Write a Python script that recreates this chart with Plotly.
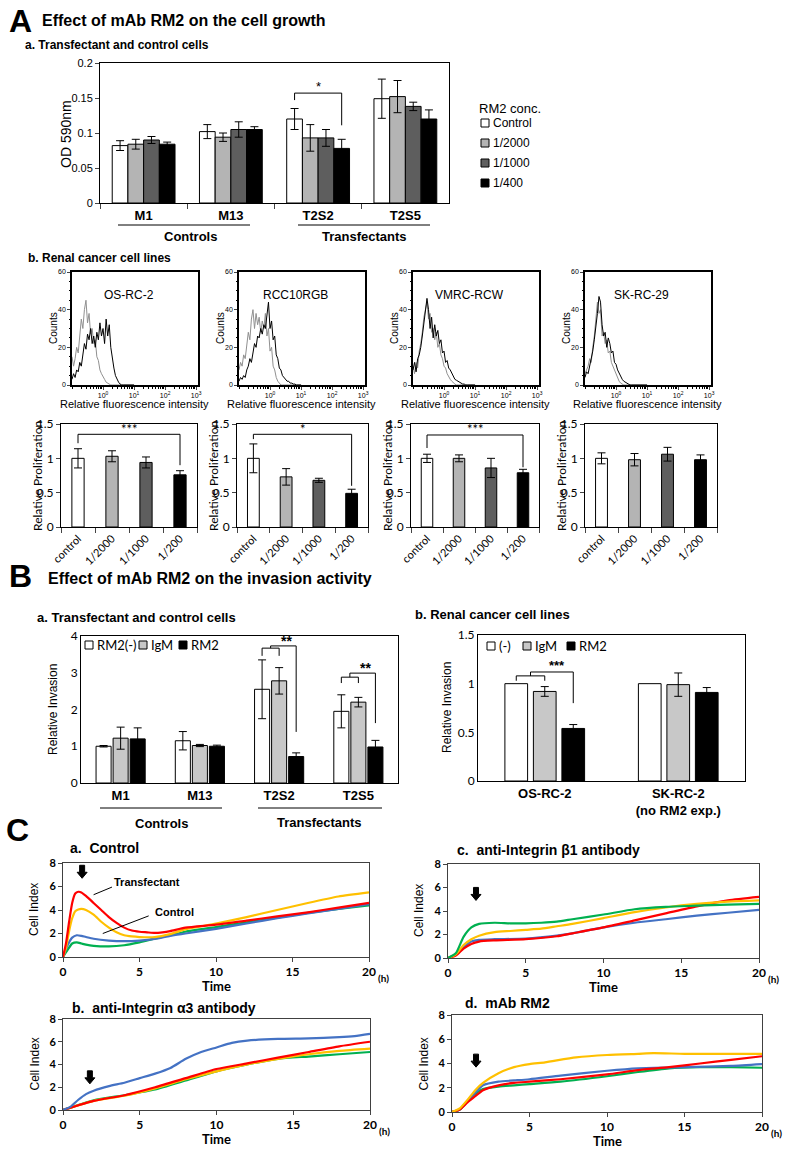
import plotly.graph_objects as go

W, H = 786, 1149
ARIAL = "Liberation Sans, Arial, sans-serif"
CALI = "Lato, Carlito, Calibri, sans-serif"

# ======================= DATA =======================
# ---- A.a  Transfectant and control cells (OD 590nm) ----
aa_categories = ["M1", "M13", "T2S2", "T2S5"]
aa_series = ["Control", "1/2000", "1/1000", "1/400"]
aa_control = [0.082, 0.102, 0.120, 0.149]
aa_control_err = [0.007, 0.010, 0.015, 0.028]
aa_d2000 = [0.084, 0.094, 0.093, 0.152]
aa_d2000_err = [0.007, 0.006, 0.019, 0.023]
aa_d1000 = [0.090, 0.105, 0.093, 0.138]
aa_d1000_err = [0.005, 0.011, 0.012, 0.006]
aa_d400 = [0.084, 0.105, 0.078, 0.120]
aa_d400_err = [0.003, 0.004, 0.013, 0.013]
aa_yticks = [0, 0.05, 0.1, 0.15, 0.2]
aa_yticktext = ["0", "0.05", "0.1", "0.15", "0.2"]

# ---- A.b  flow cytometry histograms (log10 intensity bins) ----
hist_names = ["OS-RC-2", "RCC10RGB", "VMRC-RCW", "SK-RC-29"]
hist_log_bins = [-1.00, -0.95, -0.90, -0.85, -0.80, -0.75, -0.70, -0.65, -0.60, -0.55,
                 -0.50, -0.45, -0.40, -0.35, -0.30, -0.25, -0.20, -0.15, -0.10, -0.05,
                 0.00, 0.05, 0.10, 0.15, 0.20, 0.25, 0.30, 0.35, 0.40, 0.45,
                 0.50, 0.55, 0.60, 0.65, 0.70, 0.75, 0.80, 0.85, 0.90, 0.95, 1.00]
osrc2_gray = [15, 10, 14, 20, 17, 26, 35, 30, 40, 45, 33, 38, 27, 30, 22, 24, 15, 13, 8, 6,
              4, 3, 1.5, 1, 0.5, 0, 0, 0, 0, 0, 0, 0, 0, 0, 0, 0, 0, 0, 0, 0, 0]
osrc2_black = [3, 6, 4, 8, 7, 12, 10, 17, 22, 19, 27, 24, 30, 22, 26, 20, 28, 24, 33, 26,
               30, 22, 35, 26, 32, 20, 14, 9, 5, 3, 1.5, 0.5, 0, 0, 0, 0, 0, 0, 0, 0, 0]
rcc10_gray = [8, 12, 10, 16, 14, 22, 28, 24, 35, 40, 30, 38, 32, 36, 28, 34, 30, 38, 26, 30,
              18, 20, 10, 8, 4, 2, 1, 0, 0, 0, 0, 0, 0, 0, 0, 0, 0, 0, 0, 0, 0]
rcc10_black = [2, 4, 3, 5, 4, 8, 10, 14, 12, 18, 22, 20, 26, 25, 30, 27, 32, 30, 36, 44,
               30, 34, 24, 26, 16, 14, 9, 8, 5, 4, 3, 2, 2, 1, 1, 0.5, 0.5, 0, 0, 0, 0]
vmrc_gray = [10, 6, 12, 9, 18, 22, 28, 36, 40, 44, 35, 38, 28, 30, 24, 28, 20, 22, 16, 14,
             10, 9, 6, 4, 3, 2, 1, 0.5, 0, 0, 0, 0, 0, 0, 0, 0, 0, 0, 0, 0, 0]
vmrc_black = [8, 12, 7, 14, 16, 20, 26, 33, 38, 46, 40, 30, 36, 25, 32, 26, 29, 22, 24, 17,
              18, 12, 13, 9, 8, 6, 5, 3, 2.5, 2, 1.5, 1, 0.5, 0.5, 0, 0, 0, 0, 0, 0, 0]
skrc29_gray = [6, 8, 10, 14, 12, 20, 26, 35, 44, 38, 40, 26, 28, 22, 24, 17, 18, 12, 10, 7,
               5, 3, 2, 1, 0.5, 0, 0, 0, 0, 0, 0, 0, 0, 0, 0, 0, 0, 0, 0, 0, 0]
skrc29_black = [4, 7, 6, 10, 15, 18, 24, 30, 38, 47, 44, 32, 26, 28, 20, 25, 22, 17, 18, 12,
                11, 8, 6, 4, 3, 2, 1.5, 1, 0.5, 0, 0, 0, 0, 0, 0, 0, 0, 0, 0, 0, 0]
hist_tickvals = [1, 10, 100, 1000]
hist_ticktext = ["10<sup>0</sup>", "10<sup>1</sup>", "10<sup>2</sup>", "10<sup>3</sup>"]

# ---- A.b  relative proliferation ----
prolif_categories = ["control", "1/2000", "1/1000", "1/200"]
prolif_osrc2 = [1.00, 1.03, 0.94, 0.76]
prolif_osrc2_err = [0.14, 0.08, 0.08, 0.06]
prolif_rcc10 = [1.00, 0.73, 0.68, 0.49]
prolif_rcc10_err = [0.21, 0.12, 0.03, 0.06]
prolif_vmrc = [1.00, 1.00, 0.86, 0.79]
prolif_vmrc_err = [0.06, 0.05, 0.14, 0.05]
prolif_skrc29 = [1.00, 0.98, 1.06, 0.98]
prolif_skrc29_err = [0.08, 0.09, 0.10, 0.07]
prolif_sig = ["***", "*", "***", ""]

# ---- B.a  relative invasion, transfectants ----
ba_categories = ["M1", "M13", "T2S2", "T2S5"]
ba_series = ["RM2(-)", "IgM", "RM2"]
ba_rm2neg = [1.00, 1.15, 2.55, 1.95]
ba_rm2neg_err = [0.02, 0.25, 0.80, 0.45]
ba_igm = [1.22, 1.02, 2.78, 2.20]
ba_igm_err = [0.30, 0.03, 0.36, 0.13]
ba_rm2 = [1.20, 1.00, 0.72, 0.98]
ba_rm2_err = [0.30, 0.03, 0.10, 0.18]

# ---- B.b  relative invasion, renal cancer lines ----
bb_categories = ["OS-RC-2", "SK-RC-2<br>(no RM2 exp.)"]
bb_series = ["(-)", "IgM", "RM2"]
bb_neg = [1.00, 1.00]
bb_neg_err = [0.0, 0.0]
bb_igm = [0.92, 0.99]
bb_igm_err = [0.05, 0.12]
bb_rm2 = [0.54, 0.91]
bb_rm2_err = [0.04, 0.05]

# ---- C  real-time cell index ----
ca_red_t = [0, 0.2, 0.4, 0.6, 0.8, 1.0, 1.2, 1.5, 2, 2.5, 3, 3.5, 4, 4.5, 5, 5.5, 6, 6.5, 7, 8, 10, 12, 14, 16, 18, 20]
ca_red = [0, 1.2, 3.0, 4.6, 5.4, 5.55, 5.5, 5.2, 4.6, 4.0, 3.4, 2.9, 2.5, 2.25, 2.15, 2.1, 2.05, 2.1, 2.2, 2.5, 2.75, 3.1, 3.45, 3.8, 4.2, 4.6]
ca_orange_t = [0, 0.2, 0.4, 0.6, 0.8, 1.0, 1.2, 1.5, 2, 2.5, 3, 3.5, 4, 4.5, 5, 6, 7, 8, 10, 12, 14, 16, 18, 20]
ca_orange = [0, 0.8, 2.2, 3.3, 3.9, 4.05, 4.1, 4.0, 3.6, 3.0, 2.5, 2.1, 1.85, 1.75, 1.7, 1.7, 1.95, 2.35, 2.85, 3.4, 4.0, 4.6, 5.15, 5.5]
ca_blue_t = [0, 0.3, 0.6, 0.9, 1.2, 1.5, 2, 3, 4, 5, 6, 7, 8, 10, 12, 14, 16, 18, 20]
ca_blue = [0, 1.0, 1.65, 1.85, 1.8, 1.7, 1.55, 1.4, 1.35, 1.4, 1.55, 1.8, 2.0, 2.4, 2.85, 3.3, 3.7, 4.1, 4.5]
ca_green_t = [0, 0.3, 0.6, 0.9, 1.2, 1.5, 2, 3, 4, 5, 6, 7, 8, 10, 12, 14, 16, 18, 20]
ca_green = [0, 0.6, 1.15, 1.25, 1.15, 1.05, 0.95, 0.9, 1.0, 1.25, 1.55, 1.85, 2.15, 2.55, 2.95, 3.35, 3.75, 4.1, 4.4]

cb_blue_t = [0, 0.5, 1, 1.5, 2, 3, 4, 5, 6, 7, 8, 9, 10, 11, 12, 14, 16, 18, 19, 20]
cb_blue = [0, 0.3, 0.9, 1.4, 1.7, 2.1, 2.4, 2.8, 3.2, 3.7, 4.5, 5.1, 5.5, 5.9, 6.1, 6.25, 6.3, 6.4, 6.5, 6.7]
cb_red_t = [0, 2, 4, 6, 8, 10, 12, 14, 16, 18, 20]
cb_red = [0, 0.8, 1.3, 2.0, 2.8, 3.6, 4.1, 4.6, 5.1, 5.6, 6.0]
cb_orange_t = [0, 2, 4, 6, 8, 10, 12, 14, 16, 18, 20]
cb_orange = [0, 0.8, 1.25, 1.9, 2.7, 3.4, 4.0, 4.5, 4.9, 5.2, 5.4]
cb_green_t = [0, 2, 4, 6, 8, 10, 12, 14, 16, 18, 20]
cb_green = [0, 0.85, 1.3, 1.8, 2.6, 3.4, 4.0, 4.5, 4.7, 4.9, 5.1]

cc_green_t = [0, 0.5, 1, 1.5, 2, 3, 4, 5, 6, 7, 8, 10, 12, 14, 16, 18, 20]
cc_green = [0, 0.4, 1.8, 2.6, 2.9, 3.0, 2.95, 2.95, 3.0, 3.1, 3.3, 3.7, 4.15, 4.35, 4.45, 4.55, 4.6]
cc_orange_t = [0, 0.5, 1, 1.5, 2, 3, 4, 5, 6, 7, 8, 10, 12, 14, 16, 18, 20]
cc_orange = [0, 0.3, 1.1, 1.6, 1.9, 2.2, 2.3, 2.4, 2.5, 2.7, 2.9, 3.4, 3.9, 4.3, 4.6, 4.8, 4.9]
cc_blue_t = [0, 0.5, 1, 1.5, 2, 3, 5, 7, 8, 10, 12, 14, 16, 18, 20]
cc_blue = [0, 0.3, 0.9, 1.4, 1.55, 1.6, 1.65, 1.9, 2.1, 2.6, 3.0, 3.3, 3.6, 3.85, 4.1]
cc_red_t = [0, 0.5, 1, 1.5, 2, 3, 5, 7, 8, 10, 12, 14, 16, 18, 20]
cc_red = [0, 0.2, 0.8, 1.2, 1.4, 1.5, 1.6, 1.85, 2.1, 2.6, 3.2, 3.8, 4.4, 4.9, 5.2]

cd_orange_t = [0, 0.5, 1, 1.5, 2, 3, 4, 5, 6, 8, 10, 12, 13, 15, 18, 20]
cd_orange = [0, 0.3, 1.0, 1.8, 2.4, 3.2, 3.7, 3.95, 4.1, 4.5, 4.7, 4.8, 4.85, 4.8, 4.8, 4.8]
cd_blue_t = [0, 0.5, 1, 1.5, 2, 3, 4, 5, 7, 10, 12, 15, 18, 20]
cd_blue = [0, 0.2, 0.9, 1.6, 2.2, 2.5, 2.6, 2.7, 3.0, 3.4, 3.6, 3.7, 3.8, 3.95]
cd_red_t = [0, 0.5, 1, 1.5, 2, 3, 4, 5, 7, 10, 12, 14, 16, 18, 20]
cd_red = [0, 0.2, 0.8, 1.3, 1.8, 2.2, 2.4, 2.5, 2.7, 3.1, 3.45, 3.7, 4.0, 4.3, 4.6]
cd_green_t = [0, 0.5, 1, 1.5, 2, 3, 4, 5, 7, 10, 12, 14, 16, 18, 20]
cd_green = [0, 0.2, 0.9, 1.5, 1.9, 2.1, 2.2, 2.3, 2.5, 2.95, 3.3, 3.6, 3.7, 3.7, 3.65]
c_time_ticks = [0, 5, 10, 15, 20]
c_index_ticks = [0, 2, 4, 6, 8]

# ======================= STYLE / LAYOUT =======================
GRAYS4 = ["white", "#b4b4b4", "#5e5e5e", "black"]
GRAYS3 = ["white", "#c8c8c8", "black"]
RED, ORANGE, BLUE, GREEN = "#ff0000", "#ffc000", "#4472c4", "#00b050"
NB = "\u00a0"

fig = go.Figure()
layout = dict(width=W, height=H, margin=dict(l=0, r=0, t=0, b=0, autoexpand=False),
              paper_bgcolor="white", plot_bgcolor="white", showlegend=False,
              barmode="group", bargap=0.28, bargroupgap=0.0,
              font=dict(family=ARIAL, size=11, color="black"))
annotations = []
shapes = []


def PX(x):
    return x / W


def PY(y):
    return 1 - y / H


def add_axes(n, xr, yr, xa, ya):
    s = "" if n == 1 else str(n)
    base = dict(showline=True, linecolor="black", linewidth=1, mirror=True,
                showgrid=False, zeroline=False, automargin=False)
    layout["xaxis" + s] = {**base, "domain": [PX(xr[0]), PX(xr[1])], "anchor": "y" + s, **xa}
    layout["yaxis" + s] = {**base, "domain": [PY(yr[1]), PY(yr[0])], "anchor": "x" + s, **ya}
    return "x" + s, "y" + s


def text(x, y, t, size=12, bold=False, anchor="left", angle=0, family=ARIAL, yanchor="middle"):
    annotations.append(dict(x=PX(x), y=PY(y), xref="paper", yref="paper", text=("<b>%s</b>" % t) if bold else t,
                            showarrow=False, xanchor=anchor, yanchor=yanchor, textangle=angle,
                            font=dict(family=family, size=size, color="black")))


def pline(x0, y0, x1, y1, w=1):
    shapes.append(dict(type="line", xref="paper", yref="paper", x0=PX(x0), y0=PY(y0), x1=PX(x1), y1=PY(y1),
                       line=dict(color="black", width=w)))


def dline(xa, ya, x0, y0, x1, y1, w=1):
    shapes.append(dict(type="line", xref=xa, yref=ya, x0=x0, y0=y0, x1=x1, y1=y1,
                       line=dict(color="black", width=w)))


def legend_box(x, y, color, label, size=12, family=ARIAL):
    shapes.append(dict(type="rect", xref="paper", yref="paper", x0=PX(x), x1=PX(x + 8), y0=PY(y + 4), y1=PY(y - 4),
                       fillcolor=color, line=dict(color="black", width=1)))
    text(x + 10, y, label, size=size, family=family)


def err(arr):
    return dict(type="data", array=arr, visible=True, color="black", thickness=1, width=4)


ARROW_PATH = "M0,0 L-5,6 L-2.5,6 L-2.5,13 L2.5,13 L2.5,6 L5,6 Z"


def down_arrow(xa, ya, x, y):
    shapes.append(dict(type="path", xref=xa, yref=ya, xsizemode="pixel", ysizemode="pixel",
                       xanchor=x, yanchor=y, path=ARROW_PATH, fillcolor="black",
                       line=dict(color="black", width=1)))


# ---------------- Headings ----------------
text(7, 21, "A", size=32, bold=True)
text(40, 21, "Effect of mAb RM2 on the cell growth", size=16, bold=True)
text(23, 45, "a. Transfectant and control cells", size=12, bold=True)
text(26, 258, "b. Renal cancer cell lines", size=12, bold=True)
text(7, 576, "B", size=32, bold=True)
text(46, 578, "Effect of mAb RM2 on the invasion activity", size=16, bold=True)
text(35, 617, "a. Transfectant and control cells", size=13, bold=True)
text(413, 614, "b. Renal cancer cell lines", size=13, bold=True)
text(4, 830, "C", size=32, bold=True)

# ---------------- A.a ----------------
xa, ya = add_axes(1, (100, 449), (63, 203),
                  dict(type="category", ticks="outside", tickson="boundaries", ticklen=5,
                       tickfont=dict(family=ARIAL, size=13, weight="bold")),
                  dict(range=[0, 0.2], tickvals=aa_yticks, ticktext=aa_yticktext, ticks="outside", ticklen=4,
                       tickfont=dict(family=ARIAL, size=11)))
aa_vals = [aa_control, aa_d2000, aa_d1000, aa_d400]
aa_errs = [aa_control_err, aa_d2000_err, aa_d1000_err, aa_d400_err]
for name, v, e, c in zip(aa_series, aa_vals, aa_errs, GRAYS4):
    fig.add_trace(go.Bar(x=aa_categories, y=v, name=name, error_y=err(e),
                         marker=dict(color=c, line=dict(color="black", width=1)), xaxis=xa, yaxis=ya))


def gpos(c, i, n, gap=0.28):
    slot = (1 - gap) / n
    return c - (1 - gap) / 2 + slot * (i + 0.5)


t2s2 = aa_categories.index("T2S2")
x0b, x1b = gpos(t2s2, 0, 4), gpos(t2s2, 3, 4)
dline(xa, ya, x0b, 0.147, x0b, 0.157)
dline(xa, ya, x0b, 0.157, x1b, 0.157)
dline(xa, ya, x1b, 0.157, x1b, 0.111)
annotations.append(dict(x=(x0b + x1b) / 2, y=0.166, xref=xa, yref=ya, text="*", showarrow=False,
                        font=dict(size=13, family=ARIAL)))
text(66, 134, "OD 590nm", size=14, anchor="center", angle=-90)
pline(118, 225, 250, 225)
pline(298, 225, 430, 225)
text(190, 236, "Controls", size=13, bold=True, anchor="center")
text(364, 236, "Transfectants", size=13, bold=True, anchor="center")
text(477, 108, "RM2 conc.", size=13)
for k, (name, c) in enumerate(zip(aa_series, GRAYS4)):
    legend_box(481, 123 + 20 * k, c, name, size=12)

# ---------------- A.b histograms ----------------
hist_x = [10 ** b for b in hist_log_bins]
hist_data = [(osrc2_gray, osrc2_black), (rcc10_gray, rcc10_black),
             (vmrc_gray, vmrc_black), (skrc29_gray, skrc29_black)]
hist_lefts = [72, 239, 413, 585]
for i, (name, (g, b), L) in enumerate(zip(hist_names, hist_data, hist_lefts)):
    xa, ya = add_axes(2 + i, (L, L + 126), (272, 385),
                      dict(type="log", range=[-1, 3.06], tickvals=hist_tickvals, ticktext=hist_ticktext,
                           ticks="outside", ticklen=3, linewidth=1.5,
                           minor=dict(ticks="outside", ticklen=2, dtick="D1", tickcolor="black"),
                           tickfont=dict(size=7)),
                      dict(range=[0, 60], tickvals=[0, 20, 40, 60], ticks="outside", ticklen=3,
                           linewidth=1.5, tickfont=dict(size=7),
                           minor=dict(ticks="outside", ticklen=1.5, dtick=5, tickcolor="black")))
    fig.add_trace(go.Scatter(x=hist_x, y=g, mode="lines", line=dict(color="#909090", width=1),
                             xaxis=xa, yaxis=ya))
    fig.add_trace(go.Scatter(x=hist_x, y=b, mode="lines", line=dict(color="black", width=1),
                             xaxis=xa, yaxis=ya))
    annotations.append(dict(x=0.45, y=0.88, xref=xa + " domain", yref=ya + " domain", text=name,
                            showarrow=False, font=dict(size=12, family=ARIAL)))
    text(L - 18, 328, "Counts", size=10, anchor="center", angle=-90)
    text(L + 62, 404, "Relative fluorescence intensity", size=11, anchor="center")

# ---------------- A.b relative proliferation ----------------
prolif_data = [(prolif_osrc2, prolif_osrc2_err), (prolif_rcc10, prolif_rcc10_err),
               (prolif_vmrc, prolif_vmrc_err), (prolif_skrc29, prolif_skrc29_err)]
prolif_boxes = [(61, 197), (237, 368), (411, 539), (585, 717)]
prolif_brackets = [(1.22, 1.35, 0.90), (1.28, 1.35, 0.60), (1.15, 1.34, 0.87), None]
for i, ((v, e), (L, R), sig, br) in enumerate(zip(prolif_data, prolif_boxes, prolif_sig, prolif_brackets)):
    xa, ya = add_axes(6 + i, (L, R), (424, 527),
                      dict(type="category", ticks="outside", tickson="boundaries", ticklen=5,
                           tickangle=-45, tickfont=dict(family=CALI, size=11)),
                      dict(range=[0, 1.5], tickvals=[0, 0.5, 1, 1.5], ticks="outside", ticklen=4,
                           tickfont=dict(family=CALI, size=12)))
    fig.add_trace(go.Bar(x=prolif_categories, y=v, error_y=err(e), width=0.36,
                         marker=dict(color=GRAYS4, line=dict(color="black", width=1)),
                         xaxis=xa, yaxis=ya))
    text(L - 24, 476, "Relative Proliferation", size=12, anchor="center", angle=-90, family=CALI)
    if br:
        lo, top, ro = br
        dline(xa, ya, 0, lo, 0, top)
        dline(xa, ya, 0, top, 3, top)
        dline(xa, ya, 3, top, 3, ro)
        annotations.append(dict(x=1.5, y=top + 0.08, xref=xa, yref=ya, text=sig, showarrow=False,
                                font=dict(size=13, family=CALI)))

# ---------------- B.a ----------------
xa, ya = add_axes(10, (81, 398), (636, 783),
                  dict(type="category", ticks="", tickfont=dict(family=ARIAL, size=13, weight="bold")),
                  dict(range=[0, 4], tickvals=[0, 1, 2, 3, 4], ticks="",
                       tickfont=dict(family=CALI, size=12)))
ba_vals = [ba_rm2neg, ba_igm, ba_rm2]
ba_errs = [ba_rm2neg_err, ba_igm_err, ba_rm2_err]
BA_W, BA_STEP = 0.19, 0.215
for k, (name, v, e, c) in enumerate(zip(ba_series, ba_vals, ba_errs, GRAYS3)):
    fig.add_trace(go.Bar(x=ba_categories, y=v, name=name, error_y=err(e), width=BA_W,
                         offset=(k - 1) * BA_STEP - BA_W / 2,
                         marker=dict(color=c, line=dict(color="black", width=1)), xaxis=xa, yaxis=ya))


def double_bracket(xa, ya, c, step, s_leg, s_top, b_top, b_leg, sig, sig_y, size=14):
    xl, xm, xr = c - step, c, c + step
    dline(xa, ya, xl, s_leg, xl, s_top)
    dline(xa, ya, xl, s_top, xm, s_top)
    dline(xa, ya, xm, s_top, xm, s_leg)
    mid = (xl + xm) / 2
    dline(xa, ya, mid, s_top, mid, b_top)
    dline(xa, ya, mid, b_top, xr, b_top)
    dline(xa, ya, xr, b_top, xr, b_leg)
    annotations.append(dict(x=(mid + xr) / 2 + 0.04, y=sig_y, xref=xa, yref=ya, text="<b>%s</b>" % sig,
                            showarrow=False, font=dict(size=size, family=ARIAL)))


double_bracket(xa, ya, 2, BA_STEP, 3.46, 3.67, 3.73, 1.39, "**", 3.86)
double_bracket(xa, ya, 3, BA_STEP, 2.72, 2.88, 2.99, 1.63, "**", 3.12)
text(53, 710, "Relative Invasion", size=12, anchor="center", angle=-90)
legend_box(85, 645, GRAYS3[0], ba_series[0], size=13, family=CALI)
legend_box(139, 645, GRAYS3[1], ba_series[1], size=13, family=CALI)
legend_box(179, 645, GRAYS3[2], ba_series[2], size=13, family=CALI)
pline(100, 808, 222, 808)
pline(258, 808, 382, 808)
text(161, 823, "Controls", size=13, bold=True, anchor="center")
text(319, 822, "Transfectants", size=13, bold=True, anchor="center")

# ---------------- B.b ----------------
xa, ya = add_axes(11, (478, 745), (635, 781),
                  dict(type="category", ticks="", tickfont=dict(family=ARIAL, size=13, weight="bold")),
                  dict(range=[0, 1.5], tickvals=[0, 0.5, 1, 1.5], ticks="",
                       tickfont=dict(family=CALI, size=12)))
bb_vals = [bb_neg, bb_igm, bb_rm2]
bb_errs = [bb_neg_err, bb_igm_err, bb_rm2_err]
BB_W, BB_STEP = 0.17, 0.2135
for k, (name, v, e, c) in enumerate(zip(bb_series, bb_vals, bb_errs, GRAYS3)):
    fig.add_trace(go.Bar(x=bb_categories, y=v, name=name,
                         error_y=err(e) if any(e) else None, width=BB_W,
                         offset=(k - 1) * BB_STEP - BB_W / 2,
                         marker=dict(color=c, line=dict(color="black", width=1)), xaxis=xa, yaxis=ya))
double_bracket(xa, ya, 0, BB_STEP, 1.03, 1.08, 1.12, 0.80, "***", 1.19, size=13)
text(447, 708, "Relative Invasion", size=12, anchor="center", angle=-90)
legend_box(487, 646, GRAYS3[0], bb_series[0], size=13, family=CALI)
legend_box(523, 646, GRAYS3[1], bb_series[1], size=13, family=CALI)
legend_box(567, 646, GRAYS3[2], bb_series[2], size=13, family=CALI)

# ---------------- C ----------------
c_panels = [
    (12, (63, 369), (863, 957), "a." + NB + " Control", (68, 848),
     [(ca_green_t, ca_green, GREEN), (ca_blue_t, ca_blue, BLUE), (ca_orange_t, ca_orange, ORANGE), (ca_red_t, ca_red, RED)],
     (1.25, 6.7)),
    (13, (63, 370), (1019, 1110), "b." + NB + " anti-Integrin \u03b13 antibody", (70, 1008),
     [(cb_green_t, cb_green, GREEN), (cb_orange_t, cb_orange, ORANGE), (cb_red_t, cb_red, RED), (cb_blue_t, cb_blue, BLUE)],
     (1.75, 2.3)),
    (14, (448, 759), (864, 958), "c." + NB + " anti-Integrin \u03b21 antibody", (455, 850),
     [(cc_blue_t, cc_blue, BLUE), (cc_red_t, cc_red, RED), (cc_orange_t, cc_orange, ORANGE), (cc_green_t, cc_green, GREEN)],
     (1.8, 4.9)),
    (15, (452, 762), (1015, 1112), "d." + NB + " mAb RM2", (463, 1003),
     [(cd_green_t, cd_green, GREEN), (cd_blue_t, cd_blue, BLUE), (cd_red_t, cd_red, RED), (cd_orange_t, cd_orange, ORANGE)],
     (1.55, 3.7)),
]
for n, (L, R), (T, B), title, (tx, ty), curves, (axx, ay_tip) in c_panels:
    xa, ya = add_axes(n, (L, R), (T, B),
                      dict(range=[0, 20], tickvals=c_time_ticks, ticks="outside", ticklen=4,
                           linecolor="#404040", tickfont=dict(family=CALI, size=12, weight="bold")),
                      dict(range=[0, 8], tickvals=c_index_ticks, ticks="outside", ticklen=4,
                           linecolor="#404040", tickfont=dict(family=CALI, size=11, weight="bold")))
    for t, v, col in curves:
        fig.add_trace(go.Scatter(x=t, y=v, mode="lines", line=dict(color=col, width=2.2, shape="spline", smoothing=0.6),
                                 xaxis=xa, yaxis=ya))
    text(tx, ty, title, size=14, bold=True)
    text(L - 29, (T + B) / 2, "Cell Index", size=12, anchor="center", angle=-90)
    text((L + R) / 2, B + 29, "Time", size=13, bold=True, anchor="center", family=CALI)
    text(R + 7, B + 21, "(h)", size=10, bold=True, family=CALI)
    down_arrow(xa, ya, axx, ay_tip)

# Transfectant / Control labels in C.a
dline("x12", "y12", 2.0, 5.3, 3.2, 5.95)
annotations.append(dict(x=5.5, y=6.4, xref="x12", yref="y12", text="<b>Transfectant</b>", showarrow=False,
                        font=dict(size=11, family=ARIAL)))
dline("x12", "y12", 2.6, 2.0, 5.6, 3.5)
annotations.append(dict(x=7.3, y=3.8, xref="x12", yref="y12", text="<b>Control</b>", showarrow=False,
                        font=dict(size=11, family=ARIAL)))

layout["annotations"] = annotations
layout["shapes"] = shapes
fig.update_layout(**layout)
fig.write_html("out.html", config={"displayModeBar": False},
               post_script="document.body.style.margin='0';document.body.style.overflow='hidden';")
